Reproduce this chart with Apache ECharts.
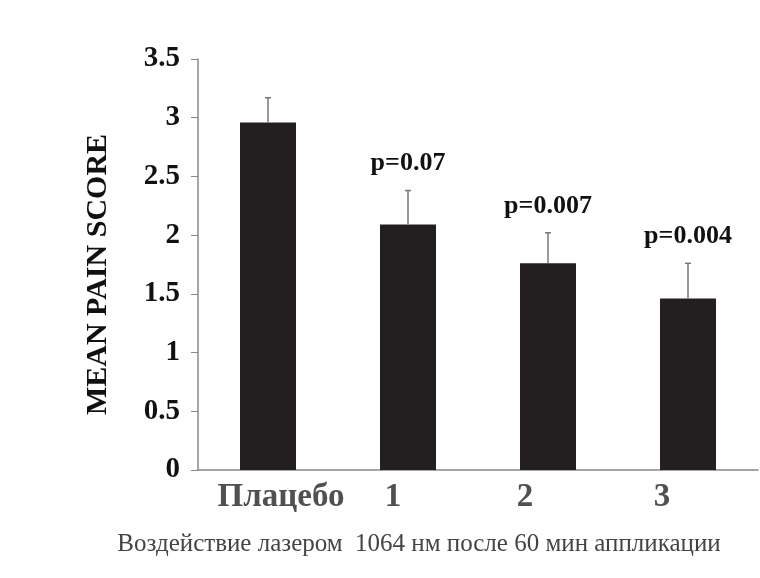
<!DOCTYPE html>
<html><head><meta charset="utf-8">
<script src="https://cdn.jsdelivr.net/npm/echarts@6/dist/echarts.min.js"></script>
<style>html,body{margin:0;padding:0;background:#fff}#c{width:760px;height:578px}</style>
</head><body><div id="c"></div>
<script>
const categories = ['Плацебо', '1', '2', '3'];
const meanScores = [2.96, 2.09, 1.76, 1.46];
const errorTops = [3.17, 2.38, 2.02, 1.76];
const pLabels = ['', 'p=0.07', 'p=0.007', 'p=0.004'];
const yTicks = [0, 0.5, 1, 1.5, 2, 2.5, 3, 3.5];

const SERIF = 'Liberation Serif';

const labelPad = {c0:[0,0,0,26], c1:[0,30,0,0], c2:[0,46,0,0], c3:[0,52,0,0]};
const rich = {};
Object.keys(labelPad).forEach(k => rich[k] = {padding: labelPad[k], fontFamily: SERIF, fontWeight:'bold', fontSize:33, color:'#505050'});

const chart = echarts.init(document.getElementById('c'));
chart.setOption({
  animation: false,
  grid: {left: 198, right: 2, top: 59, bottom: 108},
  title: {
    text: 'Воздействие лазером  1064 нм после 60 мин аппликации',
    left: 414, top: 527, textAlign: 'center',
    textStyle: {fontFamily: SERIF, fontWeight: 'normal', fontSize: 25, color: '#444'}
  },
  xAxis: {
    type: 'category', data: categories,
    axisLine: {lineStyle: {color: '#888', width: 1.5}},
    axisTick: {show: false},
    axisLabel: {
      margin: 11,
      formatter: (v, i) => '{c' + i + '|' + v + '}',
      rich: rich
    }
  },
  yAxis: {
    type: 'value', min: yTicks[0], max: yTicks[yTicks.length - 1], interval: 0.5,
    name: 'MEAN PAIN SCORE', nameLocation: 'middle', nameRotate: 90, nameGap: 85,
    nameTextStyle: {fontFamily: SERIF, fontWeight: 'bold', fontSize: 30, color: '#111', padding: [0, 20, 0, 0]},
    axisLine: {show: true, lineStyle: {color: '#888', width: 1.5}},
    axisTick: {show: true, inside: false, length: 7, lineStyle: {color: '#888'}},
    splitLine: {show: false},
    axisLabel: {margin: 18, fontFamily: SERIF, fontWeight: 'bold', fontSize: 29, color: '#111'}
  },
  series: [
    {
      type: 'bar', data: meanScores, barWidth: 56,
      itemStyle: {color: '#231f20'}
    },
    {
      type: 'custom',
      data: categories.map((c, i) => [i, meanScores[i], errorTops[i]]),
      encode: {x: 0, y: [1, 2]},
      z: 3,
      renderItem: function (params, api) {
        const i = api.value(0);
        const base = api.coord([i, api.value(1)]);
        const top = api.coord([i, api.value(2)]);
        const children = [
          {type: 'line', shape: {x1: base[0], y1: base[1], x2: top[0], y2: top[1]}, style: {stroke: '#777', lineWidth: 1.5}},
          {type: 'line', shape: {x1: top[0] - 3, y1: top[1], x2: top[0] + 3, y2: top[1]}, style: {stroke: '#777', lineWidth: 1.5}}
        ];
        const t = pLabels[params.dataIndex];
        if (t) {
          children.push({type: 'text', x: top[0], y: top[1] - 27,
            style: {text: t, align: 'center', verticalAlign: 'middle', fontFamily: SERIF, fontWeight: 'bold', fontSize: 26, fill: '#111'}});
        }
        return {type: 'group', children: children};
      }
    }
  ]
});
</script></body></html>
